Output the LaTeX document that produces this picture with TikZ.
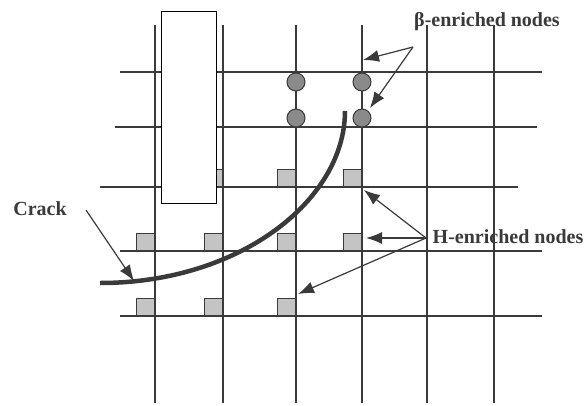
\documentclass[tikz,border=0pt]{standalone}
\usepackage{fontspec}
\setmainfont{Liberation Serif}
\usetikzlibrary{arrows.meta}
\definecolor{linegray}{HTML}{3A3A3A}
\definecolor{hgray}{HTML}{C4C4C4}
\definecolor{bgray}{HTML}{8A8A8A}
\begin{document}
\begin{tikzpicture}[x=1pt, y=-1pt, color=linegray, line width=1.3pt,
	hnode/.style={draw, fill=hgray, line width=1pt, inner sep=0pt, minimum width=18pt, minimum height=17pt, anchor=south east},
	bnode/.style={circle, draw, fill=bgray, line width=1pt, inner sep=0pt, minimum size=18pt},
	lbl/.style={font=\fontsize{20}{22}\selectfont\bfseries, inner sep=0pt},
	pointer/.style={line width=1.2pt, -{Latex[length=16pt, width=12pt]}}]
	\useasboundingbox (0,0) rectangle (587,405);
	
	% grid
	\foreach \x in {155,223,296,362,427,494}
		\draw (\x,25) -- (\x,403);
	\draw (120,72) -- (542,72);
	\draw (115,127) -- (537,127);
	\draw (100,187) -- (518,187);
	\draw (120,251) -- (542,251);
	\draw (120,316) -- (542,316);
	
	% H-enriched
	\node [hnode] (h1) at (223,187) {};
	\node [hnode] (h2) at (296,187) {};
	\node [hnode] (h3) at (362,187) {};
	\node [hnode] (h4) at (155,251) {};
	\node [hnode] (h5) at (223,251) {};
	\node [hnode] (h6) at (296,251) {};
	\node [hnode] (h7) at (362,251) {};
	\node [hnode] (h8) at (155,316) {};
	\node [hnode] (h9) at (223,316) {};
	\node [hnode] (h10) at (296,316) {};
	
	% beta-enriched
	\node [bnode] (b1) at (296,82) {};
	\node [bnode] (b2) at (362,82) {};
	\node [bnode] (b3) at (296,118) {};
	\node [bnode] (b4) at (362,118) {};
	
	\node [draw=black, fill=white, line width=1pt, minimum width=55pt, minimum height=192pt, inner sep=0pt] (box) at (188.5,107) {};
	
	% crack
	\coordinate (cs) at (100,283);
	\coordinate (ce) at (345,111);
	\draw [line width=4.5pt] (cs) .. controls (240,283) and (345,200) .. (ce);
	
	\node [lbl] (blab) at (487,22) {β-enriched nodes};
	\node [lbl] (hlab) at (508,237) {H-enriched nodes};
	\node [lbl] (clab) at (40,209) {Crack};
	
	\coordinate (bfork) at (413,47);
	\coordinate (hfork) at (426,238);
	\coordinate (cfork) at (86,210);
	\coordinate (bt1) at (363,60);
	\coordinate (bt2) at (370,108);
	\coordinate (ht1) at (364,190);
	\coordinate (ht2) at (366,238);
	\coordinate (ht3) at (298,294);
	\coordinate (ct) at (134,281);
	
	\draw [pointer] (bfork) -- (bt1);
	\draw [pointer] (bfork) -- (bt2);
	\draw [pointer] (hfork) -- (ht1);
	\draw [pointer] (hfork) -- (ht2);
	\draw [pointer] (hfork) -- (ht3);
	\draw [pointer] (cfork) -- (ct);
\end{tikzpicture}
\end{document}
